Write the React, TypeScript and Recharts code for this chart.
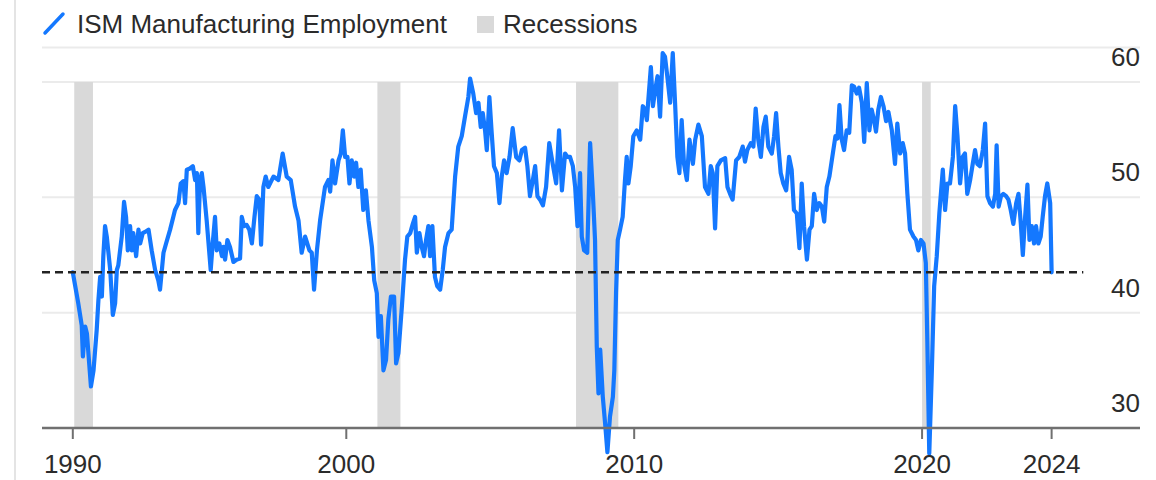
import { LineChart, Line, XAxis, YAxis, CartesianGrid, ReferenceArea, ReferenceLine } from 'recharts'

// [decimal year, index value]
const ism1990s: [number, number][] = [
  [1990.5, 43.5], [1990.69, 40.8], [1990.81, 38.9], [1990.85, 36.2], [1990.93, 38.8], [1990.99, 38.2],
  [1991.13, 33.6], [1991.22, 35.0], [1991.33, 38.5], [1991.39, 41.1], [1991.45, 43.1], [1991.51, 41.4],
  [1991.56, 44.9], [1991.62, 47.5], [1991.68, 46.6], [1991.8, 43.7], [1991.89, 39.8], [1991.97, 40.8],
  [1992.03, 43.7], [1992.08, 44.1], [1992.2, 46.6], [1992.28, 49.6], [1992.35, 48.3], [1992.41, 45.4],
  [1992.49, 47.5], [1992.55, 45.4], [1992.6, 46.9], [1992.7, 44.9], [1992.78, 47.2], [1992.84, 46.0],
  [1992.93, 46.9], [1993.01, 47.0], [1993.13, 47.2], [1993.24, 45.4], [1993.36, 43.7], [1993.47, 42.8],
  [1993.53, 42.0], [1993.65, 45.2], [1993.74, 46.0], [1993.88, 47.2], [1993.99, 48.3], [1994.05, 48.9],
  [1994.17, 49.5], [1994.25, 51.2], [1994.34, 51.4], [1994.4, 49.5], [1994.46, 52.4], [1994.57, 52.5],
  [1994.67, 52.7], [1994.75, 51.5], [1994.81, 52.1], [1994.86, 46.9], [1994.92, 51.5], [1994.98, 52.1],
  [1995.04, 50.9], [1995.15, 48.0], [1995.29, 43.7], [1995.36, 46.0], [1995.44, 48.3], [1995.5, 45.4],
  [1995.59, 46.0], [1995.68, 44.9], [1995.73, 45.7], [1995.79, 44.6], [1995.87, 46.3], [1995.96, 45.7],
  [1996.08, 44.4], [1996.2, 44.6], [1996.31, 44.7], [1996.37, 48.3], [1996.45, 47.5], [1996.54, 47.6],
  [1996.63, 47.2], [1996.72, 46.0], [1996.81, 48.3], [1996.89, 50.1], [1996.98, 49.8], [1997.04, 45.9],
  [1997.12, 50.9], [1997.2, 51.8], [1997.29, 50.9], [1997.47, 51.8], [1997.64, 51.5], [1997.79, 53.8],
  [1997.93, 51.8], [1998.07, 51.5], [1998.22, 49.2], [1998.34, 48.0], [1998.45, 45.2], [1998.57, 46.6],
  [1998.72, 45.4], [1998.8, 45.2], [1998.88, 42.0], [1998.98, 45.4], [1999.09, 48.0], [1999.26, 50.9],
  [1999.38, 51.5], [1999.44, 50.5], [1999.52, 53.2], [1999.61, 51.2], [1999.73, 53.2], [1999.81, 53.8],
  [1999.88, 55.8], [1999.96, 53.5],
]

const ism2000s: [number, number][] = [
  [2000.04, 53.5], [2000.11, 51.2], [2000.19, 53.2], [2000.27, 51.8], [2000.34, 53.0], [2000.42, 50.9],
  [2000.5, 52.4], [2000.59, 48.9], [2000.68, 50.6], [2000.77, 48.0], [2000.89, 45.7], [2000.97, 42.8],
  [2001.06, 41.7], [2001.12, 37.9], [2001.2, 39.7], [2001.29, 35.0], [2001.38, 35.9], [2001.46, 39.4],
  [2001.55, 41.4], [2001.66, 41.4], [2001.73, 35.6], [2001.81, 36.5], [2001.93, 40.5], [2002.04, 44.6],
  [2002.12, 46.6], [2002.22, 46.9], [2002.31, 47.7], [2002.39, 48.3], [2002.45, 45.2], [2002.54, 46.9],
  [2002.62, 45.7], [2002.7, 44.9], [2002.77, 46.3], [2002.85, 47.5], [2002.91, 44.9], [2002.99, 47.5],
  [2003.08, 43.1], [2003.16, 42.3], [2003.26, 42.0], [2003.35, 43.7], [2003.43, 45.7], [2003.55, 46.9],
  [2003.66, 47.2], [2003.78, 51.8], [2003.89, 54.4], [2004.01, 55.3], [2004.13, 57.1], [2004.24, 58.7],
  [2004.3, 60.3], [2004.41, 59.0], [2004.51, 57.3], [2004.59, 58.2], [2004.67, 56.1], [2004.74, 57.3],
  [2004.82, 55.8], [2004.88, 54.1], [2004.97, 58.7], [2005.05, 55.6], [2005.13, 52.7], [2005.23, 52.1],
  [2005.32, 49.5], [2005.4, 51.8], [2005.48, 53.2], [2005.57, 52.1], [2005.67, 53.5], [2005.78, 56.0],
  [2005.9, 53.5], [2006.01, 53.2], [2006.1, 54.1], [2006.21, 54.3], [2006.29, 52.7], [2006.38, 50.1],
  [2006.48, 51.5], [2006.56, 52.7], [2006.64, 50.1], [2006.73, 49.8], [2006.83, 49.3], [2006.94, 50.9],
  [2007.05, 54.7], [2007.17, 52.9], [2007.29, 51.2], [2007.39, 55.8], [2007.49, 50.6], [2007.6, 53.8],
  [2007.68, 53.5], [2007.77, 53.5], [2007.87, 52.7], [2007.95, 50.9], [2008.03, 47.5], [2008.12, 52.1],
  [2008.18, 46.6], [2008.26, 45.4], [2008.37, 45.2], [2008.47, 54.7], [2008.56, 50.6], [2008.64, 46.3],
  [2008.7, 37.1], [2008.76, 33.0], [2008.82, 36.8], [2008.91, 32.7], [2008.99, 30.4], [2009.07, 27.9],
  [2009.16, 31.0], [2009.26, 32.7], [2009.31, 35.0], [2009.37, 41.7], [2009.43, 46.3], [2009.51, 47.2],
  [2009.6, 48.3], [2009.68, 51.5], [2009.74, 53.5], [2009.8, 51.2], [2009.88, 52.7], [2009.97, 55.3],
]

const ism2010s: [number, number][] = [
  [2010.09, 55.8], [2010.21, 55.0], [2010.3, 57.9], [2010.38, 57.6], [2010.44, 56.7], [2010.49, 58.4],
  [2010.58, 61.3], [2010.65, 57.9], [2010.73, 59.3], [2010.81, 60.5], [2010.9, 57.0], [2010.99, 62.5],
  [2011.07, 62.2], [2011.15, 60.5], [2011.25, 58.2], [2011.34, 62.5], [2011.42, 58.2], [2011.5, 53.5],
  [2011.57, 52.1], [2011.65, 56.7], [2011.73, 52.9], [2011.83, 51.5], [2011.92, 55.0], [2012.04, 52.9],
  [2012.12, 55.0], [2012.23, 56.3], [2012.35, 55.3], [2012.46, 50.9], [2012.58, 50.3], [2012.66, 52.7],
  [2012.73, 52.1], [2012.81, 47.3], [2012.89, 52.7], [2013.01, 53.2], [2013.16, 53.4], [2013.24, 50.9],
  [2013.33, 50.3], [2013.42, 49.8], [2013.54, 53.2], [2013.65, 53.5], [2013.77, 54.4], [2013.85, 53.1],
  [2013.93, 54.1], [2014.05, 54.7], [2014.14, 54.4], [2014.22, 57.7], [2014.31, 55.0], [2014.4, 53.5],
  [2014.49, 56.1], [2014.57, 57.0], [2014.66, 54.4], [2014.78, 53.8], [2014.86, 55.3], [2014.93, 57.3],
  [2015.01, 54.4], [2015.09, 52.1], [2015.18, 51.2], [2015.28, 50.6], [2015.38, 53.5], [2015.47, 52.4],
  [2015.55, 48.9], [2015.65, 48.6], [2015.74, 45.6], [2015.82, 51.2], [2015.9, 47.5], [2016.0, 44.6],
  [2016.09, 47.2], [2016.17, 47.5], [2016.25, 50.3], [2016.34, 48.9], [2016.43, 49.5], [2016.52, 49.2],
  [2016.6, 47.9], [2016.69, 50.9], [2016.78, 51.8], [2016.9, 53.8], [2016.99, 55.3], [2017.06, 55.1],
  [2017.13, 58.0], [2017.21, 55.0], [2017.29, 54.1], [2017.38, 55.8], [2017.47, 55.6], [2017.56, 59.7],
  [2017.64, 59.6], [2017.73, 59.0], [2017.81, 59.5], [2017.91, 58.2], [2017.99, 54.8], [2018.08, 59.9],
  [2018.17, 55.8], [2018.25, 57.6], [2018.33, 56.7], [2018.4, 55.7], [2018.48, 57.6], [2018.57, 58.7],
  [2018.66, 57.9], [2018.75, 56.6], [2018.83, 57.4], [2018.95, 55.8], [2019.06, 52.9], [2019.14, 56.4],
  [2019.24, 53.8], [2019.33, 54.7], [2019.41, 53.8], [2019.49, 50.3], [2019.58, 47.2], [2019.7, 46.6],
  [2019.79, 46.3], [2019.87, 45.4], [2019.96, 46.3],
]

const ism2020s: [number, number][] = [
  [2020.05, 46.0], [2020.13, 44.3], [2020.18, 37.9], [2020.25, 27.8], [2020.34, 35.0], [2020.42, 42.3],
  [2020.51, 44.9], [2020.6, 48.6], [2020.72, 52.4], [2020.8, 48.9], [2020.88, 51.2], [2020.97, 51.2],
  [2021.07, 53.5], [2021.15, 57.9], [2021.23, 55.3], [2021.32, 51.2], [2021.41, 53.5], [2021.49, 53.8],
  [2021.57, 50.3], [2021.67, 51.5], [2021.76, 52.9], [2021.84, 54.1], [2021.92, 52.9], [2022.01, 52.7],
  [2022.11, 54.1], [2022.19, 56.4], [2022.27, 50.1], [2022.36, 49.5], [2022.46, 49.2], [2022.54, 50.3],
  [2022.59, 54.5], [2022.66, 49.2], [2022.74, 50.1], [2022.82, 50.3], [2022.92, 50.1], [2023.0, 49.8],
  [2023.08, 48.9], [2023.17, 47.7], [2023.27, 49.5], [2023.35, 50.3], [2023.43, 47.7], [2023.5, 45.0],
  [2023.58, 48.3], [2023.66, 51.1], [2023.73, 46.3], [2023.81, 47.5], [2023.89, 46.0], [2023.96, 47.5],
  [2024.04, 46.0], [2024.12, 46.6], [2024.19, 48.3], [2024.27, 50.1], [2024.35, 51.2], [2024.45, 49.5],
  [2024.5, 43.5],
]

// NBER recessions, start / end as decimal years
const recessions: [number, number][] = [
  [1990.55, 1991.2],
  [2001.08, 2001.88],
  [2007.98, 2009.45],
  [2020.0, 2020.3],
]

const xTicks = [1990.5, 2000, 2010, 2020, 2024.5]
const yTicks = [30, 40, 50, 60]
const latestLevel = 43.5

const FONT = '"Liberation Sans", Arial, Helvetica, sans-serif'
const BLUE = '#1478ff'
const INK = '#2b2b2b'

const X_DOMAIN: [number, number] = [1989.43, 2027.57]
const DASH_END = 2025.6

const data = [...ism1990s, ...ism2000s, ...ism2010s, ...ism2020s].map(([t, v]) => ({ t, v }))

// eslint-disable-next-line @typescript-eslint/no-explicit-any
function YTick({ x, y, payload }: any) {
  return (
    <text x={x} y={y - 16} textAnchor="end" fontSize={26} fill={INK} fontFamily={FONT}>
      {payload.value}
    </text>
  )
}

function LegendRow() {
  return (
    <svg width={700} height={50} style={{ position: 'absolute', left: 0, top: 0 }}>
      <line x1={45} y1={33} x2={63} y2={14} stroke={BLUE} strokeWidth={3.5} strokeLinecap="round" />
      <text x={77} y={33} fontSize={26} fill={INK} fontFamily={FONT}>
        ISM Manufacturing Employment
      </text>
      <rect x={477} y={16} width={17} height={17} fill="#d9d9d9" />
      <text x={503} y={33} fontSize={26} fill={INK} fontFamily={FONT}>
        Recessions
      </text>
    </svg>
  )
}

export default function App() {
  return (
    <div style={{ position: 'relative', width: 1156, height: 480, background: '#fff', fontFamily: FONT }}>
      <style>{`
        body { margin: 0; }
        .recharts-line, .recharts-line * { clip-path: none !important; }
      `}</style>
      <div style={{ position: 'absolute', left: 14, top: 0, width: 2, height: 480, background: '#e4e4e4' }} />
      <LineChart width={1156} height={480} data={data} margin={{ top: 47.4, right: 0, bottom: 0, left: 42 }}>
        <CartesianGrid vertical={false} stroke="#ebebeb" strokeWidth={2} />
        {recessions.map(([a, b]) => (
          <ReferenceArea key={a} x1={a} x2={b} y1={30} y2={60} fill="#d9d9d9" fillOpacity={1} stroke="none" />
        ))}
        <XAxis
          type="number"
          dataKey="t"
          domain={X_DOMAIN}
          ticks={xTicks}
          interval={0}
          tickFormatter={(v) => String(Math.floor(v))}
          height={52}
          tickSize={11}
          tickMargin={16}
          axisLine={{ stroke: '#707070', strokeWidth: 2.5 }}
          tickLine={{ stroke: '#707070', strokeWidth: 2 }}
          tick={{ fontSize: 26, fill: INK, fontFamily: FONT }}
        />
        <YAxis
          orientation="right"
          width={16}
          domain={[30, 63]}
          allowDataOverflow
          ticks={yTicks}
          axisLine={false}
          tickLine={false}
          tickSize={0}
          tickMargin={0}
          tick={<YTick />}
        />
        <Line
          type="linear"
          dataKey="v"
          stroke={BLUE}
          strokeWidth={4.2}
          strokeLinejoin="round"
          strokeLinecap="round"
          dot={false}
          activeDot={false}
          isAnimationActive={false}
        />
        <ReferenceLine
          segment={[
            { x: X_DOMAIN[0], y: latestLevel },
            { x: DASH_END, y: latestLevel },
          ]}
          stroke="#222"
          strokeWidth={2.5}
          strokeDasharray="8 5"
        />
      </LineChart>
      <LegendRow />
    </div>
  )
}
